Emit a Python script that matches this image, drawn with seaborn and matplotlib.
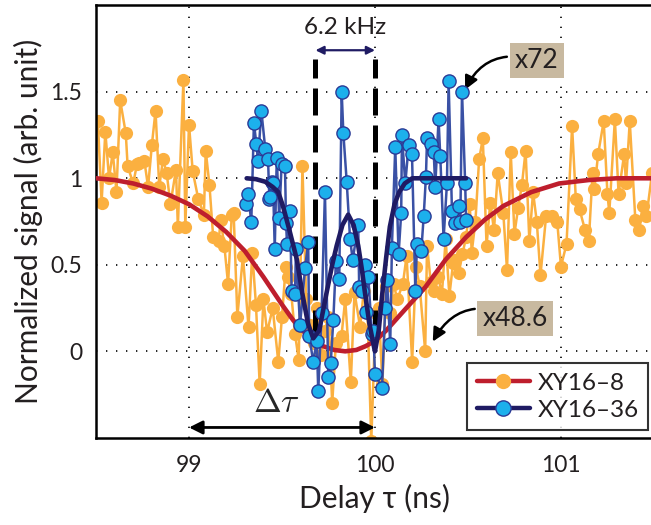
import numpy as np
import matplotlib
matplotlib.use("Agg")
import matplotlib.pyplot as plt
import seaborn as sns
from matplotlib.lines import Line2D

# XY16-8 data (orange)
xy8_x = [98.51, 98.53, 98.55, 98.57, 98.59, 98.61, 98.63, 98.66, 98.67, 98.70,
         98.72, 98.73, 98.76, 98.78, 98.80, 98.82, 98.84, 98.86, 98.88, 98.90,
         98.93, 98.94, 98.97, 98.98, 99.00, 99.02, 99.05, 99.08, 99.09, 99.11,
         99.13, 99.16, 99.17, 99.19, 99.21, 99.23, 99.24, 99.26, 99.29, 99.32,
         99.34, 99.36, 99.38, 99.40, 99.42, 99.45, 99.48, 99.50, 99.52, 99.53,
         99.55, 99.57, 99.59, 99.61, 99.63, 99.65, 99.67, 99.69, 99.71, 99.73,
         99.75, 99.77, 99.79, 99.82, 99.84, 99.87, 99.89, 99.92, 99.94, 99.96,
         99.98, 100.00, 100.02, 100.04, 100.06, 100.08, 100.10, 100.12, 100.15, 100.17,
         100.20, 100.22, 100.24, 100.27, 100.28, 100.30, 100.32, 100.34, 100.36, 100.38,
         100.40, 100.42, 100.43, 100.45, 100.47, 100.49, 100.51, 100.52, 100.54, 100.56,
         100.58, 100.60, 100.62, 100.64, 100.66, 100.69, 100.71, 100.73, 100.75, 100.77,
         100.79, 100.81, 100.83, 100.85, 100.87, 100.89, 100.92, 100.95, 100.98, 101.00,
         101.03, 101.06, 101.08, 101.10, 101.13, 101.15, 101.17, 101.18, 101.20, 101.23,
         101.25, 101.26, 101.29, 101.31, 101.34, 101.35, 101.37, 101.40, 101.42, 101.44,
         101.46, 101.49]
xy8_y = [1.33, 0.86, 1.27, 1.00, 1.15, 0.92, 1.45, 1.26, 1.07, 0.97,
         1.08, 1.09, 1.10, 0.95, 1.19, 1.39, 0.95, 1.11, 1.03, 0.85,
         1.05, 0.72, 1.57, 0.72, 1.31, 1.04, 0.88, 0.79, 1.16, 0.96,
         0.66, 0.64, 0.76, 0.61, 0.39, 0.79, 0.80, 0.20, 0.55, 0.14,
         0.57, 0.27, -0.19, 0.30, 0.11, 0.25, -0.06, 0.20, 0.49, 0.43,
         0.33, 0.10, -0.05, 1.07, 0.30, 0.15, 0.05, 0.25, -0.02, 0.12,
         0.20, -0.30, 0.05, 0.09, 0.30, -0.18, 0.34, 0.14, 0.35, 0.22,
         -0.52, 0.10, 0.25, -0.19, 0.38, 0.22, 0.39, 0.30, 0.39, 0.55,
         -0.06, 0.49, 0.38, 0.00, 0.61, 0.40, 0.35, 0.43, 0.33, 0.65,
         0.32, 0.51, 0.53, 0.45, 0.56, 0.66, 0.85, 0.57, 0.75, 1.11,
         1.23, 0.61, 0.86, 0.70, 1.03, 0.80, 0.47, 1.15, 0.68, 0.83,
         0.96, 1.16, 0.64, 0.92, 0.75, 0.44, 0.78, 0.78, 0.75, 0.49,
         0.62, 1.30, 0.88, 0.82, 0.70, 0.64, 1.03, 0.94, 1.14, 1.33,
         0.91, 0.80, 1.34, 0.91, 1.14, 0.97, 1.33, 0.76, 0.70, 0.84,
         0.78, 1.03]

# XY16-36 data (blue)
xy36_x = [99.308, 99.317, 99.335, 99.349, 99.362, 99.371, 99.389, 99.410, 99.425, 99.432,
          99.438, 99.445, 99.452, 99.461, 99.472, 99.485, 99.498, 99.516, 99.522, 99.527,
          99.543, 99.552, 99.570, 99.575, 99.597, 99.624, 99.641, 99.646, 99.668, 99.687,
          99.695, 99.713, 99.731, 99.749, 99.762, 99.776, 99.790, 99.808, 99.821, 99.830,
          99.848, 99.866, 99.880, 99.910, 99.915, 99.928, 99.946, 99.950, 99.964, 99.984,
          99.991, 100.000, 100.038, 100.055, 100.065, 100.082, 100.091, 100.109, 100.127, 100.141,
          100.145, 100.163, 100.181, 100.199, 100.217, 100.226, 100.249, 100.262, 100.274, 100.280,
          100.303, 100.316, 100.324, 100.342, 100.351, 100.369, 100.387, 100.396, 100.414, 100.432,
          100.453, 100.459, 100.468, 100.485, 100.490]
xy36_y = [0.85, 0.91, 0.75, 1.32, 1.20, 1.10, 1.39, 1.17, 1.11, 0.88,
          0.89, 0.98, 0.97, 0.59, 1.12, 0.77, 1.08, 1.07, 0.74, 0.62,
          0.81, 0.35, 0.33, 0.59, 0.15, 0.48, 0.63, 0.09, -0.06, 0.06,
          -0.23, 0.22, 0.92, -0.15, -0.07, 0.18, 0.52, 0.42, 1.50, 1.26,
          0.98, 0.65, 0.53, 0.73, 0.37, 0.35, 0.50, 0.23, 0.43, 0.10,
          0.12, -0.13, -0.21, 0.25, 0.41, 0.04, 0.60, 1.18, 0.56, 0.80,
          1.25, 0.97, 1.19, 1.14, 0.35, 0.62, 0.58, 0.78, 1.01, 1.23,
          1.20, 1.15, 0.95, 1.34, 1.13, 0.65, 0.97, 1.56, 0.81, 0.74,
          0.84, 0.75, 1.50, 0.97, 0.76]

# fitted curves
fit8_x = [98.50, 98.60, 98.70, 98.80, 98.90, 99.00, 99.10, 99.20, 99.30, 99.40,
          99.50, 99.56, 99.62, 99.67, 99.72, 99.78, 99.84, 99.90, 99.95, 100.00,
          100.06, 100.16, 100.27, 100.38, 100.49, 100.59, 100.69, 100.84, 100.99, 101.15,
          101.30, 101.50]
fit8_y = [1.00, 0.99, 0.97, 0.94, 0.90, 0.85, 0.78, 0.69, 0.58, 0.43,
          0.27, 0.18, 0.11, 0.06, 0.03, 0.008, 0.0, 0.008, 0.03, 0.06,
          0.12, 0.24, 0.37, 0.53, 0.66, 0.76, 0.84, 0.92, 0.97, 0.99,
          1.0, 1.0]
fit36_x = [99.31, 99.36, 99.41, 99.45, 99.48, 99.505, 99.54, 99.58, 99.61, 99.64,
           99.668, 99.70, 99.74, 99.77, 99.794, 99.825, 99.856, 99.885, 99.91, 99.93,
           99.946, 99.97, 99.99, 100.0, 100.02, 100.04, 100.06, 100.08, 100.105, 100.13,
           100.16, 100.20, 100.30, 100.40, 100.49]
fit36_y = [1.00, 0.995, 0.98, 0.95, 0.92, 0.84, 0.70, 0.53, 0.33, 0.16,
           0.075, 0.12, 0.34, 0.50, 0.61, 0.73, 0.79, 0.73, 0.61, 0.47,
           0.34, 0.16, 0.05, 0.0, 0.12, 0.34, 0.54, 0.72, 0.85, 0.92,
           0.97, 1.00, 1.00, 1.00, 1.00]

x_ticks = [99, 100, 101]
y_ticks = [0, 0.5, 1, 1.5]
y_ticklabels = ["0", "0.5", "1", "1.5"]

ORANGE = "#fbb040"
RED = "#be1e2d"
BLUE_LINE = "#3a51a5"
BLUE_FACE = "#1cb0ec"
BLUE_EDGE = "#2b3a96"
NAVY = "#1f1b63"
TAN = "#c8b9a0"
TXT = "#231f20"

sns.set_style("white")
plt.rcParams["font.family"] = ["Lato", "DejaVu Sans"]
plt.rcParams["mathtext.fontset"] = "cm"

fig = plt.figure(figsize=(6.51, 5.25), dpi=100)
ax = fig.add_axes([0.1475, 0.166, 0.857, 0.824])

sns.lineplot(x=xy8_x, y=xy8_y, ax=ax, sort=False, estimator=None, color=ORANGE,
             lw=1.8, marker="o", markersize=9.5, markeredgewidth=0,
             markerfacecolor=ORANGE, zorder=2, legend=False)
sns.lineplot(x=fit8_x, y=fit8_y, ax=ax, sort=False, estimator=None, color=RED,
             lw=3.3, zorder=3, legend=False)

# dashed markers of the two dips
for xd in [99.68, 100.0]:
    ax.plot([xd, xd], [0.08, 1.69], color="black", lw=3.6,
            linestyle=(0, (5.4, 2.0)), zorder=4, solid_capstyle="butt")

sns.lineplot(x=xy36_x, y=xy36_y, ax=ax, sort=False, estimator=None, color=BLUE_LINE,
             lw=1.8, marker="o", markersize=9.5, markeredgewidth=1.0,
             markerfacecolor=BLUE_FACE, markeredgecolor=BLUE_EDGE, zorder=5, legend=False)
sns.lineplot(x=fit36_x, y=fit36_y, ax=ax, sort=False, estimator=None, color=NAVY,
             lw=3.3, zorder=6, legend=False)

ax.set_xlim(98.5, 101.5)
ax.set_ylim(-0.5, 2.0)
ax.set_xticks(x_ticks)
ax.set_xticklabels([str(t) for t in x_ticks])
ax.set_yticks(y_ticks)
ax.set_yticklabels(y_ticklabels)
ax.tick_params(direction="out", length=6, width=1.5, labelsize=16.5, color="black",
               labelcolor=TXT, pad=4)
ax.tick_params(axis="x", pad=6)
ax.grid(True, color="black", linestyle=(0, (0.8, 5.2)), lw=1.2)
for side in ["left", "bottom", "top"]:
    ax.spines[side].set_color("black")
    ax.spines[side].set_linewidth(1.8)
ax.spines["right"].set_visible(False)

ax.set_xlabel("Delay τ (ns)", fontsize=21.5, color=TXT, labelpad=6)
ax.set_ylabel("Normalized signal (arb. unit)", fontsize=21.5, color=TXT, labelpad=5)

# 6.2 kHz spacing
ax.annotate("", xy=(99.68, 1.74), xytext=(100.0, 1.74),
            arrowprops=dict(arrowstyle="<|-|>", color=NAVY, lw=1.6,
                            mutation_scale=12, shrinkA=0, shrinkB=0))
ax.text(99.84, 1.87, "6.2 kHz", fontsize=17.5, ha="center", va="center", color=TXT)

# delta tau
ax.annotate("", xy=(99.0, -0.44), xytext=(100.0, -0.44),
            arrowprops=dict(arrowstyle="<|-|>", color="black", lw=2.0,
                            mutation_scale=20, shrinkA=0, shrinkB=0))
ax.text(99.47, -0.30, r"$\Delta\tau$", fontsize=24, ha="center", va="center")

# scale factor labels
box = dict(boxstyle="square,pad=0.2", fc=TAN, ec="none")
ax.annotate("x72", xy=(100.475, 1.49), xytext=(100.87, 1.68), fontsize=19,
            ha="center", va="center", color=TXT, bbox=box,
            arrowprops=dict(arrowstyle="-|>", color="black", lw=1.8, mutation_scale=20,
                            connectionstyle="arc3,rad=0.45", shrinkA=2, shrinkB=3))
ax.annotate("x48.6", xy=(100.30, 0.035), xytext=(100.755, 0.19), fontsize=19,
            ha="center", va="center", color=TXT, bbox=box,
            arrowprops=dict(arrowstyle="-|>", color="black", lw=1.8, mutation_scale=20,
                            connectionstyle="arc3,rad=0.5", shrinkA=2, shrinkB=3))

handles = [
    Line2D([], [], color=RED, lw=3.2, marker="o", markersize=11,
           markerfacecolor=ORANGE, markeredgewidth=0),
    Line2D([], [], color=NAVY, lw=3.2, marker="o", markersize=11,
           markerfacecolor=BLUE_FACE, markeredgecolor=BLUE_EDGE, markeredgewidth=1.0),
]
leg = ax.legend(handles, ["XY16–8", "XY16–36"], loc="lower right",
                bbox_to_anchor=(0.99, 0.017), fontsize=17.5, frameon=True,
                fancybox=False, handlelength=2.2, handletextpad=0.3,
                borderpad=0.4, labelspacing=0.25, borderaxespad=0)
leg.get_frame().set_edgecolor("black")
leg.get_frame().set_linewidth(1.5)
for t in leg.get_texts():
    t.set_color(TXT)
leg.set_zorder(10)

fig.savefig("out.png", dpi=100)
